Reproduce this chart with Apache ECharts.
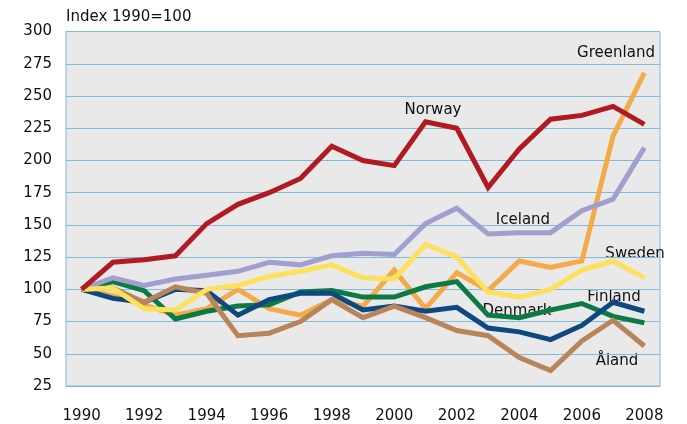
<!DOCTYPE html>
<html>
<head>
<meta charset="utf-8">
<script src="https://cdn.jsdelivr.net/npm/echarts@6/dist/echarts.min.js"></script>
<style>html,body{margin:0;padding:0;background:#fff}#c{width:687px;height:424px}</style>
</head>
<body>
<div id="c"></div>
<script>
const years = ['1990','1991','1992','1993','1994','1995','1996','1997','1998','1999','2000','2001','2002','2003','2004','2005','2006','2007','2008'];
const greenland = [100, 95, 88, 80, 85, 100, 85, 80, 92, 87, 115, 85, 113, 99, 122, 117, 122, 219, 268];
const denmark   = [100, 106, 99, 77, 83, 87, 88, 98, 99, 94, 94, 102, 106, 80, 78, 84, 89, 79, 74];
const finland   = [100, 93, 90, 100, 99, 80, 92, 97, 97, 84, 87, 83, 86, 70, 67, 61, 72, 90, 83];
const aland     = [100, 101, 90, 102, 97, 64, 66, 75, 92, 78, 87, 78, 68, 64, 47, 37, 60, 76, 56];
const iceland   = [100, 109, 103, 108, 111, 114, 121, 119, 126, 128, 127, 151, 163, 143, 144, 144, 161, 170, 210];
const sweden    = [100, 101, 85, 84, 100, 103, 110, 114, 119, 109, 108, 135, 125, 98, 94, 100, 115, 122, 109];
const norway    = [100, 121, 123, 126, 151, 166, 175, 186, 211, 200, 196, 230, 225, 179, 209, 232, 235, 242, 228];

const FONT = 'DejaVu Sans';
function line(name, data, color) {
  return {name, type: 'line', data, symbol: 'none', smooth: false,
    lineStyle: {color, width: 5, join: 'miter'}, itemStyle: {color}, z: 2};
}
const chart = echarts.init(document.getElementById('c'), null, {renderer: 'canvas'});
chart.setOption({
  animation: false,
  grid: {left: 66, right: 27, top: 31.6, bottom: 35.7, show: true,
    backgroundColor: '#e9e9e9', borderColor: '#7fbbdb', borderWidth: 1},
  xAxis: {type: 'category', data: years, boundaryGap: true,
    axisLine: {show: false}, axisTick: {show: false},
    axisLabel: {interval: 1, color: '#111', fontFamily: FONT, fontSize: 15, margin: 23}},
  yAxis: {type: 'value', min: 25, max: 300, interval: 25,
    axisLine: {show: false}, axisTick: {show: false},
    splitLine: {lineStyle: {color: '#7fbbdb', width: 1}},
    axisLabel: {color: '#111', fontFamily: FONT, fontSize: 15, margin: 14}},
  series: [
    line('Greenland', greenland, '#f3ab4a'),
    line('Denmark', denmark, '#0b7a45'),
    line('Finland', finland, '#0d4880'),
    line('Åland', aland, '#b8845a'),
    line('Iceland', iceland, '#a19fcf'),
    line('Sweden', sweden, '#fde15e'),
    line('Norway', norway, '#b21a22')
  ],
  graphic: [
    {type: 'text', left: 66, top: 10, style: {text: 'Index 1990=100', font: '15px "DejaVu Sans"', fill: '#111'}},
    {type: 'text', x: 433, y: 110, style: {text: 'Norway', font: '15px "DejaVu Sans"', fill: '#111', align: 'center', verticalAlign: 'middle'}},
    {type: 'text', x: 616, y: 53, style: {text: 'Greenland', font: '15px "DejaVu Sans"', fill: '#111', align: 'center', verticalAlign: 'middle'}},
    {type: 'text', x: 523, y: 220, style: {text: 'Iceland', font: '15px "DejaVu Sans"', fill: '#111', align: 'center', verticalAlign: 'middle'}},
    {type: 'text', x: 635, y: 254, style: {text: 'Sweden', font: '15px "DejaVu Sans"', fill: '#111', align: 'center', verticalAlign: 'middle'}},
    {type: 'text', x: 614, y: 297, style: {text: 'Finland', font: '15px "DejaVu Sans"', fill: '#111', align: 'center', verticalAlign: 'middle'}},
    {type: 'text', x: 517, y: 311, style: {text: 'Denmark', font: '15px "DejaVu Sans"', fill: '#111', align: 'center', verticalAlign: 'middle'}},
    {type: 'text', x: 617, y: 361, style: {text: 'Åland', font: '15px "DejaVu Sans"', fill: '#111', align: 'center', verticalAlign: 'middle'}}
  ]
});
</script>
</body>
</html>
